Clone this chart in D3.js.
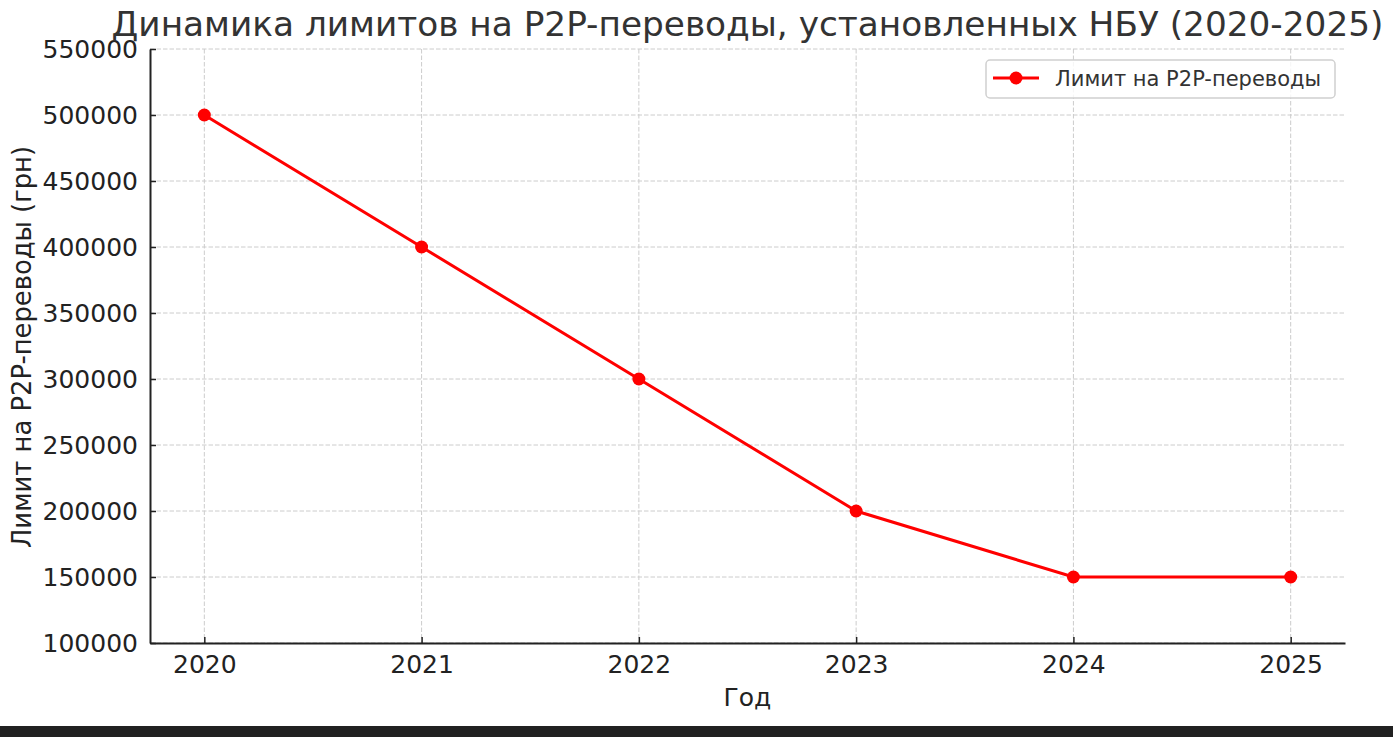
<!DOCTYPE html>
<html>
<head>
<meta charset="utf-8">
<script src="https://cdn.jsdelivr.net/npm/d3@7"></script>
<style>
  body { margin: 0; background: #fff; }
  svg { display: block; font-family: "DejaVu Sans", sans-serif; }
</style>
</head>
<body>
<svg id="chart"></svg>
<script>
const years = [2020, 2021, 2022, 2023, 2024, 2025];
const limits = [500000, 400000, 300000, 200000, 150000, 150000];
const yTicks = [100000, 150000, 200000, 250000, 300000, 350000, 400000, 450000, 500000, 550000];
const seriesName = "Лимит на P2P-переводы";

const width = 1393;
const height = 737;
const margin = { top: 49, right: 48, bottom: 94, left: 150 };

const svg = d3.select("#chart")
  .attr("width", width)
  .attr("height", height);

const xScale = d3.scaleLinear()
  .domain([2019.75, 2025.25])
  .range([margin.left, width - margin.right]);

const yScale = d3.scaleLinear()
  .domain([100000, 550000])
  .range([height - margin.bottom, margin.top]);

// grid
svg.append("g")
  .selectAll("line")
  .data(yTicks)
  .enter()
  .append("line")
  .attr("x1", margin.left)
  .attr("x2", width - margin.right)
  .attr("y1", d => yScale(d))
  .attr("y2", d => yScale(d))
  .attr("stroke", "#cccccc")
  .attr("stroke-width", 1)
  .attr("stroke-dasharray", "4.5,2");

svg.append("g")
  .selectAll("line")
  .data(years)
  .enter()
  .append("line")
  .attr("x1", d => xScale(d))
  .attr("x2", d => xScale(d))
  .attr("y1", margin.top)
  .attr("y2", height - margin.bottom)
  .attr("stroke", "#cccccc")
  .attr("stroke-width", 1)
  .attr("stroke-dasharray", "4.5,2");

// axes
const xAxis = d3.axisBottom(xScale)
  .tickValues(years)
  .tickFormat(d3.format("d"))
  .tickSizeInner(-6)
  .tickSizeOuter(0)
  .tickPadding(12);

const yAxis = d3.axisLeft(yScale)
  .tickValues(yTicks)
  .tickFormat(d3.format("d"))
  .tickSizeInner(-6)
  .tickSizeOuter(0)
  .tickPadding(12);

const gx = svg.append("g")
  .attr("transform", "translate(0," + (height - margin.bottom) + ")")
  .call(xAxis);

const gy = svg.append("g")
  .attr("transform", "translate(" + margin.left + ",0)")
  .call(yAxis);

[gx, gy].forEach(g => {
  g.select(".domain").attr("stroke", "#222").attr("stroke-width", 2);
  g.selectAll(".tick line").attr("stroke", "#222").attr("stroke-width", 1.5);
  g.selectAll(".tick text")
    .attr("fill", "#222")
    .style("font-size", "25px")
    .style("font-family", "DejaVu Sans");
});

// line
const line = d3.line()
  .x((d, i) => xScale(years[i]))
  .y(d => yScale(d));

svg.append("path")
  .datum(limits)
  .attr("d", line)
  .attr("fill", "none")
  .attr("stroke", "#ff0000")
  .attr("stroke-width", 3);

svg.append("g")
  .selectAll("circle")
  .data(limits)
  .enter()
  .append("circle")
  .attr("cx", (d, i) => xScale(years[i]))
  .attr("cy", d => yScale(d))
  .attr("r", 6.5)
  .attr("fill", "#ff0000");

// title and labels
svg.append("text")
  .attr("x", (margin.left + width - margin.right) / 2)
  .attr("y", 36)
  .attr("text-anchor", "middle")
  .attr("fill", "#333")
  .style("font-size", "34.3px")
  .text("Динамика лимитов на P2P-переводы, установленных НБУ (2020-2025)");

svg.append("text")
  .attr("x", (margin.left + width - margin.right) / 2)
  .attr("y", 706)
  .attr("text-anchor", "middle")
  .attr("fill", "#222")
  .style("font-size", "25px")
  .text("Год");

svg.append("text")
  .attr("transform", "translate(31," + ((margin.top + height - margin.bottom) / 2 + 1) + ") rotate(-90)")
  .attr("text-anchor", "middle")
  .attr("fill", "#222")
  .style("font-size", "25.8px")
  .text("Лимит на P2P-переводы (грн)");

// legend
const legend = svg.append("g").attr("transform", "translate(986,60)");
legend.append("rect")
  .attr("width", 349)
  .attr("height", 38)
  .attr("rx", 4)
  .attr("fill", "#fff")
  .attr("fill-opacity", 0.8)
  .attr("stroke", "#d0d0d0")
  .attr("stroke-width", 1.5);
legend.append("line")
  .attr("x1", 7).attr("x2", 53)
  .attr("y1", 18).attr("y2", 18)
  .attr("stroke", "#ff0000")
  .attr("stroke-width", 3);
legend.append("circle")
  .attr("cx", 30).attr("cy", 18).attr("r", 6.5)
  .attr("fill", "#ff0000");
legend.append("text")
  .attr("x", 69)
  .attr("y", 26)
  .attr("fill", "#333")
  .style("font-size", "21px")
  .text(seriesName);

// dark strip at bottom
svg.append("rect")
  .attr("x", 0)
  .attr("y", 726)
  .attr("width", width)
  .attr("height", height - 726)
  .attr("fill", "#212121");
</script>
</body>
</html>
